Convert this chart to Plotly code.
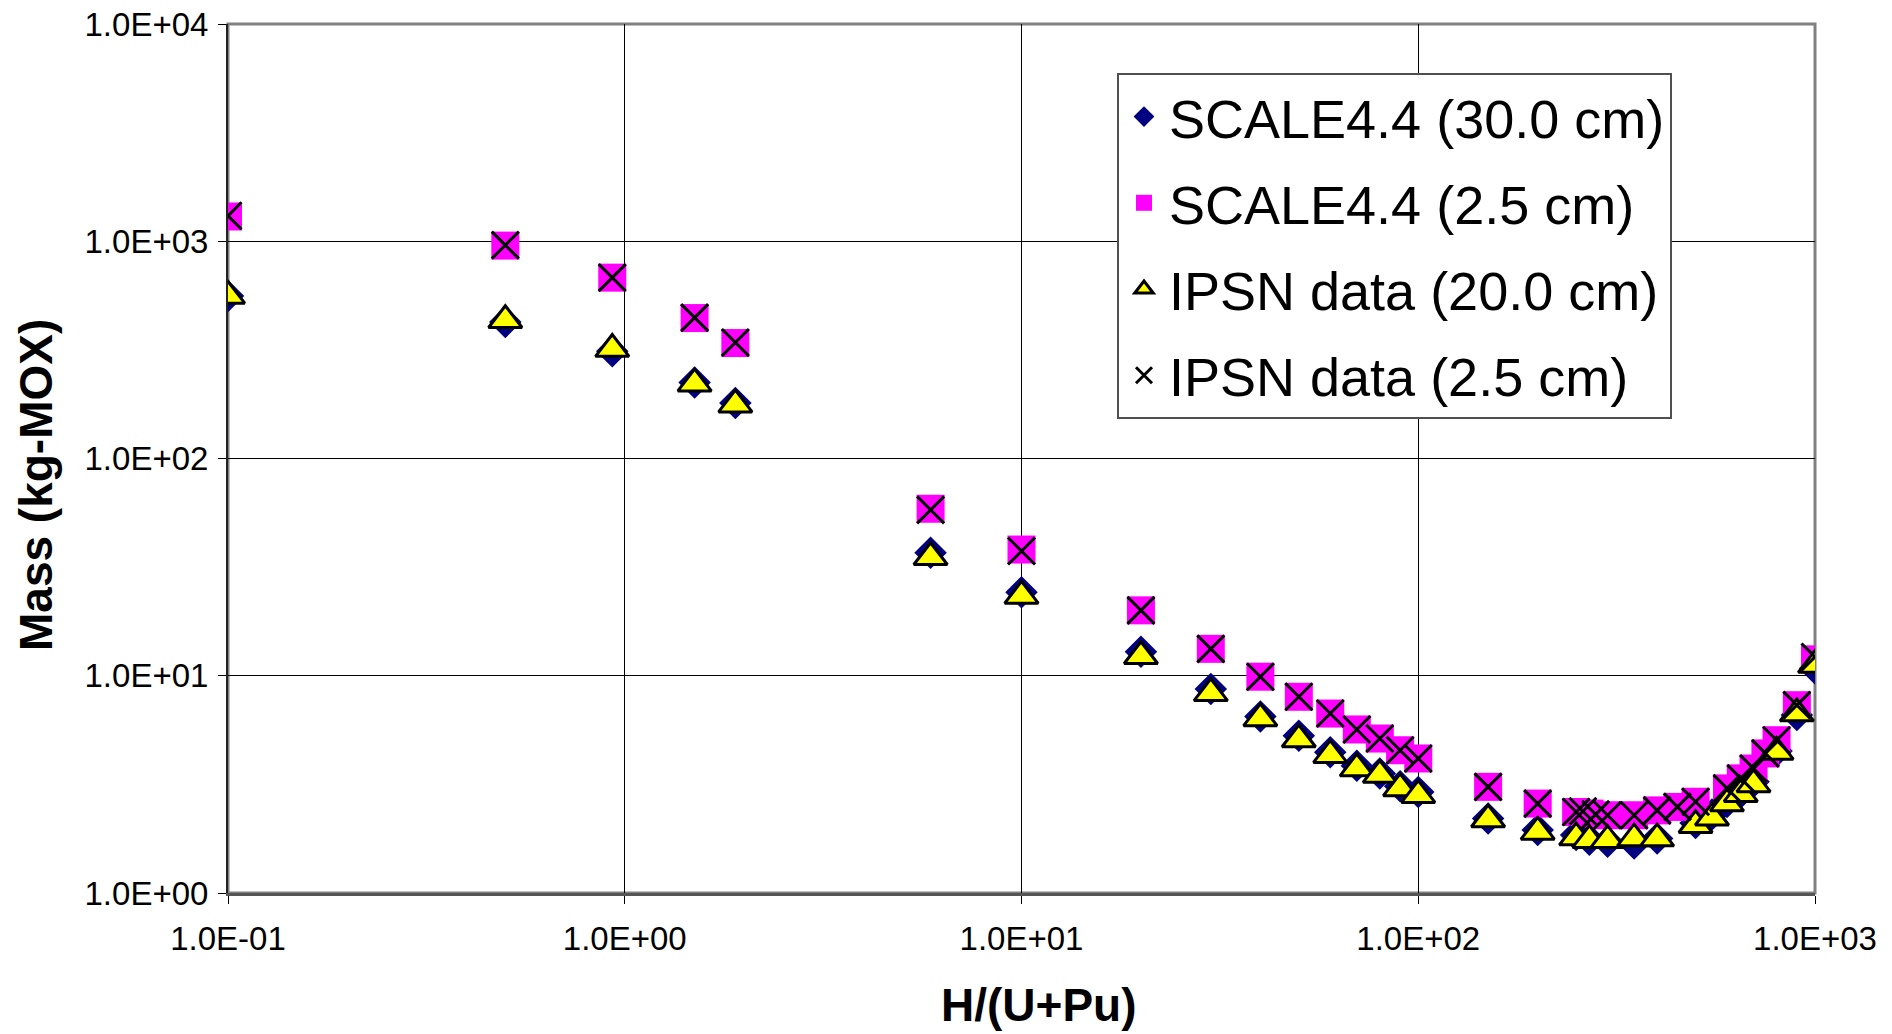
import plotly.graph_objects as go

# ---------------- data ----------------
x_scale30 = [0.1, 0.5, 0.93, 1.5, 1.9, 5.9, 10, 20, 30, 40, 50, 60, 70, 80, 90, 100,
             150, 200, 250, 270, 300, 350, 400, 500, 550, 600, 650, 700, 800, 900, 1000]
y_scale30 = [560, 425, 312, 224, 180, 36.8, 24.2, 12.9, 8.7, 6.5, 5.3, 4.45, 3.85, 3.55, 3.1, 2.92,
             2.2, 1.95, 1.85, 1.76, 1.72, 1.69, 1.78, 2.1, 2.3, 2.62, 2.9, 3.25, 4.5, 6.6, 10.8]

x_scale25 = [0.1, 0.5, 0.93, 1.5, 1.9, 5.9, 10, 20, 30, 40, 50, 60, 70, 80, 90, 100,
             150, 200, 250, 270, 300, 350, 400, 450, 500, 600, 650, 700, 750, 800, 900, 1000]
y_scale25 = [1300, 955, 680, 443, 340, 58.7, 38.1, 20.0, 13.3, 9.9, 8.0, 6.7, 5.66, 5.14, 4.54, 4.16,
             3.08, 2.58, 2.36, 2.32, 2.28, 2.28, 2.4, 2.49, 2.63, 3.03, 3.37, 3.74, 4.39, 5.05, 7.32, 11.9]

x_ipsn20 = [0.1, 0.5, 0.93, 1.5, 1.9, 5.9, 10, 20, 30, 40, 50, 60, 70, 80, 90, 100,
            150, 200, 250, 270, 300, 350, 400, 500, 550, 600, 650, 700, 800, 900, 1000]
y_ipsn20 = [560, 433, 319, 221, 177, 35.1, 23.3, 12.3, 8.3, 6.36, 5.09, 4.31, 3.74, 3.49, 3.03, 2.82,
            2.18, 1.91, 1.80, 1.75, 1.75, 1.78, 1.78, 2.05, 2.22, 2.58, 2.85, 3.16, 4.46, 6.70, 11.2]

x_ipsn25 = [0.1, 0.5, 0.93, 1.5, 1.9, 5.9, 10, 20, 30, 40, 50, 60, 70, 80, 90, 100,
            150, 200, 250, 260, 280, 300, 350, 400, 450, 500, 600, 650, 700, 750, 800, 900, 1000]
y_ipsn25 = [1310, 960, 680, 445, 342, 58.0, 37.5, 20.0, 13.3, 9.9, 8.0, 6.7, 5.66, 5.14, 4.54, 4.16,
            3.08, 2.58, 2.36, 2.38, 2.30, 2.28, 2.28, 2.4, 2.49, 2.63, 3.03, 3.37, 3.74, 4.39, 5.05, 7.32, 12.2]

x_tickvals = [0.1, 1, 10, 100, 1000]
x_ticktext = ["1.0E-01", "1.0E+00", "1.0E+01", "1.0E+02", "1.0E+03"]
y_tickvals = [1, 10, 100, 1000, 10000]
y_ticktext = ["1.0E+00", "1.0E+01", "1.0E+02", "1.0E+03", "1.0E+04"]

FONT = "Liberation Sans, Arial, sans-serif"

fig = go.Figure()
fig.add_trace(go.Scatter(x=x_scale30, y=y_scale30, mode="markers", name="SCALE4.4 (30.0 cm)",
                         legendgroup="a",
                         marker=dict(symbol="diamond", size=25, color="#000080",
                                     line=dict(width=0))))
fig.add_trace(go.Scatter(x=x_scale25, y=y_scale25, mode="markers", name="SCALE4.4 (2.5 cm)",
                         legendgroup="b",
                         marker=dict(symbol="square", size=28, color="#FF00FF",
                                     line=dict(width=0))))
fig.add_trace(go.Scatter(x=x_ipsn20, y=y_ipsn20, mode="markers", name="IPSN data (20.0 cm)",
                         legendgroup="c",
                         marker=dict(symbol="triangle-up", size=29, color="#FFFF00",
                                     line=dict(width=3, color="black"))))
fig.add_trace(go.Scatter(x=x_ipsn25, y=y_ipsn25, mode="markers", name="IPSN data (2.5 cm)",
                         legendgroup="d",
                         marker=dict(symbol="x-thin", size=27, color="black",
                                     line=dict(width=3, color="black"))))

# the page body has an 8px margin, so lay out in page pixels minus 8
OFF = 8
W, H = 1892 - OFF, 1034 - OFF
X0, X1, Y0, Y1 = 228 - OFF, 1815 - OFF, 24 - OFF, 893 - OFF
L, R, T, B = X0, W - X1, Y0, H - Y1
PW, PH = X1 - X0, Y1 - Y0


def px(x):
    return (x - OFF - X0) / PW


def py(y):
    return (Y1 - (y - OFF)) / PH


fig.update_layout(
    width=W, height=H,
    margin=dict(l=L, r=R, t=T, b=B, autoexpand=False),
    paper_bgcolor="white", plot_bgcolor="white",
    font=dict(family=FONT, color="black", size=33),
    showlegend=True,
    legend=dict(
        x=px(1117), y=py(73), xanchor="left", yanchor="top",
        bgcolor="white", bordercolor="#505050", borderwidth=2,
        font=dict(family=FONT, size=54, color="black"),
        itemwidth=40, tracegroupgap=13, traceorder="grouped",
    ),
    xaxis=dict(
        type="log", range=[-1, 3], automargin=False,
        tickvals=x_tickvals, ticktext=x_ticktext,
        showgrid=True, gridcolor="black", gridwidth=1,
        showline=True, linecolor="#555555", linewidth=3,
        ticks="outside", ticklen=8, tickcolor="black", tickwidth=1,
        tickfont=dict(family=FONT, size=33, color="black"),
        ticklabelstandoff=6, ticklabeloverflow="allow",
        zeroline=False, mirror=False,
    ),
    yaxis=dict(
        type="log", range=[0, 4], automargin=False,
        tickvals=y_tickvals, ticktext=y_ticktext,
        showgrid=True, gridcolor="black", gridwidth=1,
        showline=True, linecolor="#222222", linewidth=2,
        ticks="outside", ticklen=8, tickcolor="black", tickwidth=1,
        tickfont=dict(family=FONT, size=33, color="black"),
        ticklabelstandoff=3, ticklabeloverflow="allow",
        zeroline=False, mirror=False,
    ),
    shapes=[dict(type="rect", xref="paper", yref="paper", x0=0, x1=1, y0=0, y1=1,
                 line=dict(color="#808080", width=3), layer="below")],
    annotations=[
        dict(text="<b>Mass (kg-MOX)</b>", xref="paper", yref="paper",
             x=px(36), y=py(485), textangle=-90, showarrow=False,
             font=dict(family=FONT, size=46, color="black"), xanchor="center", yanchor="middle"),
        dict(text="<b>H/(U+Pu)</b>", xref="paper", yref="paper",
             x=px(1039), y=py(1005), showarrow=False,
             font=dict(family=FONT, size=46, color="black"), xanchor="center", yanchor="middle"),
    ],
)

fig.write_html("out.html")
